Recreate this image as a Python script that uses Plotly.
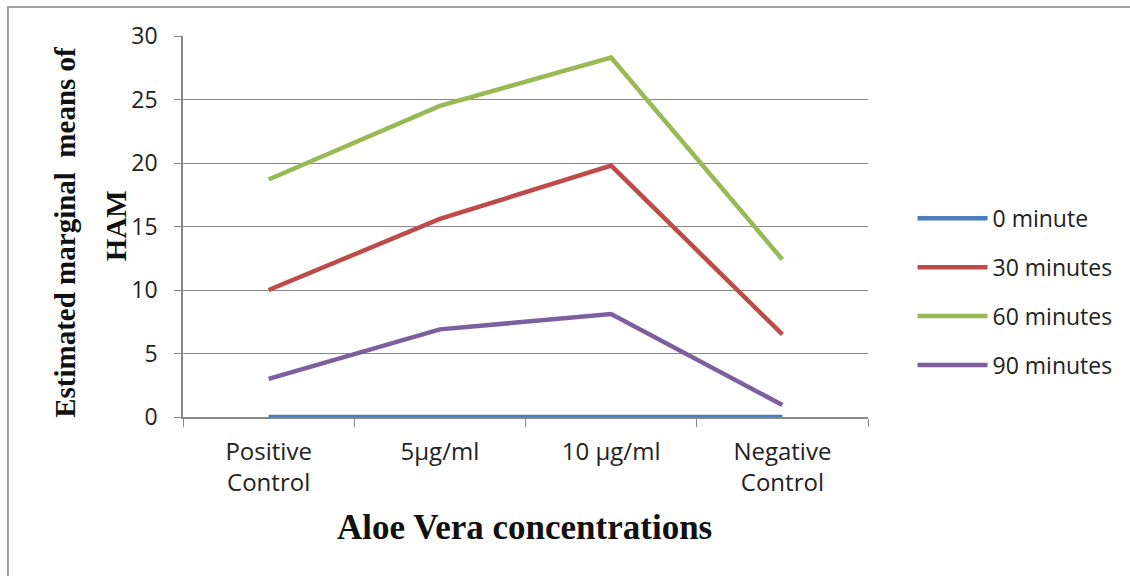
import plotly.graph_objects as go

categories = ["Positive<br>Control", "5µg/ml", "10 µg/ml", "Negative<br>Control"]
series_names = ["0 minute", "30 minutes", "60 minutes", "90 minutes"]
min0 = [0, 0, 0, 0]
min30 = [10.0, 15.6, 19.8, 6.5]
min60 = [18.7, 24.5, 28.3, 12.4]
min90 = [3.0, 6.9, 8.1, 0.95]
colors = ["#4A7EBB", "#BE4B48", "#98B954", "#7D5FA0"]

fig = go.Figure()
for i, (name, vals) in enumerate(zip(series_names, [min0, min30, min60, min90])):
    fig.add_trace(go.Scatter(
        x=categories, y=vals, mode="lines", name=name,
        line=dict(color=colors[i], width=4.5),
        legendgroup=name,
    ))

tick_font = dict(family="Open Sans, sans-serif", size=23, color="#222222")
xtick_font = dict(family="Open Sans, sans-serif", size=24, color="#222222")
serif = "Liberation Serif, Times New Roman, serif"

fig.update_layout(
    width=1130, height=576,
    margin=dict(l=183, r=262, t=36, b=159),
    paper_bgcolor="white", plot_bgcolor="white",
    showlegend=True,
    legend=dict(x=1.065, y=0.578, xanchor="left", yanchor="top",
                font=tick_font, tracegroupgap=16, bgcolor="rgba(0,0,0,0)",
                itemwidth=70),
    xaxis=dict(type="category", range=[-0.5, 3.5], showgrid=False,
               showline=True, linecolor="#888888", linewidth=1.5,
               ticks="outside", tickson="boundaries", ticklen=8, tickcolor="#888888",
               tickfont=xtick_font, zeroline=False, ticklabelstandoff=12),
    yaxis=dict(range=[0, 30], dtick=5, showgrid=True, gridcolor="#888888", gridwidth=1.2,
               showline=True, linecolor="#888888", linewidth=1.5,
               ticks="outside", ticklen=7, tickcolor="#888888",
               tickfont=tick_font, zeroline=False, ticklabelstandoff=12),
)

fig.add_annotation(text="<b>Estimated marginal\u00a0\u00a0means of</b>",
                   xref="paper", yref="paper", x=-0.1723, y=0.486,
                   xanchor="center", yanchor="middle", textangle=-90, showarrow=False,
                   font=dict(family=serif, size=29, color="#111111"))
fig.add_annotation(text="<b>HAM</b>",
                   xref="paper", yref="paper", x=-0.0978, y=0.501,
                   xanchor="center", yanchor="middle", textangle=-90, showarrow=False,
                   font=dict(family=serif, size=29, color="#111111"))
fig.add_annotation(text="<b>Aloe Vera concentrations</b>",
                   xref="paper", yref="paper", x=0.499, y=-0.291,
                   xanchor="center", yanchor="middle", showarrow=False,
                   font=dict(family=serif, size=35, color="#111111"))

fig.add_shape(type="rect", xref="paper", yref="paper",
              x0=-0.2555, y0=-1.0, x1=2.0, y1=1.0761,
              line=dict(color="#A0A0A0", width=2), fillcolor="rgba(0,0,0,0)", layer="below")

fig.write_html("out.html", config={"displayModeBar": False},
               post_script="document.body.style.margin='0';")
